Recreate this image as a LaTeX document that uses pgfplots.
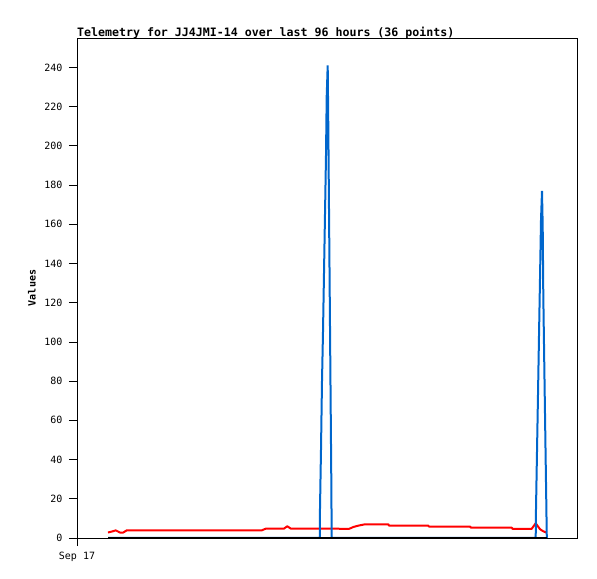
\documentclass[border=0pt]{standalone}
\usepackage{fontspec}
\setmainfont{DejaVu Sans Mono}
\usepackage{pgfplots}
\pgfplotsset{compat=1.18}
\definecolor{spikeblue}{RGB}{0,102,204}
\begin{document}
\begin{tikzpicture}
\begin{axis}[
  name=ax,
  scale only axis, width=500bp, height=500bp,
  xmin=0, xmax=500, ymin=0, ymax=255,
  xtick={0}, xticklabels={Sep 17},
  ytick={0,20,...,240},
  tick pos=left, tick align=outside, major tick length=8bp,
  tick style={black, line width=0.8bp},
  axis line style={line width=0.8bp},
  /pgf/number format/assume math mode=true,
  ticklabel style={font=\fontsize{10bp}{12bp}\selectfont},
  yticklabel style={xshift=-3bp},
  xticklabel style={yshift=-3bp},
  title={Telemetry for JJ4JMI-14 over last 96 hours (36 points)},
  title style={at={(axis description cs:0,1)}, anchor=base west, yshift=-4bp,
    inner sep=0pt, font=\fontsize{11.6bp}{13bp}\selectfont\bfseries},
  ylabel={Values},
  ylabel style={at={(axis description cs:-0.09,0.5)}, anchor=center,
    font=\fontsize{10bp}{12bp}\selectfont\bfseries},
]
% red series
\addplot[red, line width=2bp, line join=round] coordinates {
  (31,2.8)(35,3.3)(38.7,3.9)(43,2.8)(46.3,2.8)(49.7,3.9)
  (184.7,3.9)(189,4.8)(207,4.8)(210.3,6.0)(213.7,4.8)
  (272.3,4.7)(276.3,5.6)(281.3,6.3)(288,7.0)(311.3,7.0)(312,6.3)
  (351.3,6.3)(352,5.8)(393,5.8)(394,5.3)(434.7,5.3)(435.5,4.7)
  (454.7,4.7)(458.7,7.5)(463,4.5)(466,3.5)(469.7,2.7)
};
% blue series
\addplot[spikeblue, line width=2bp] coordinates {
  (31,0)(242.8,0)(243,15)(244,45)(245,80)(246,105)(247,135)(248,165)
  (249,195)(249.7,225)(250.7,241)(251.3,210)(252.3,150)(253.3,90)
  (254.3,30)(254.7,0)
  (458.7,0)(459,14.6)(460,44)(461,73)(462,103)(463,132)(464,162)
  (465,177)(465.7,159)(466.3,124)(467.3,88)(468.3,53)(469.3,18)
  (469.8,0)(470,0)
};
% black series
\addplot[black, line width=2.2bp] coordinates {(31,0)(470,0)};
\end{axis}
\pgfresetboundingbox
\path[use as bounding box] (ax.south west) ++(-77bp,-41bp) rectangle ++(597bp,579bp);
\end{tikzpicture}
\end{document}
